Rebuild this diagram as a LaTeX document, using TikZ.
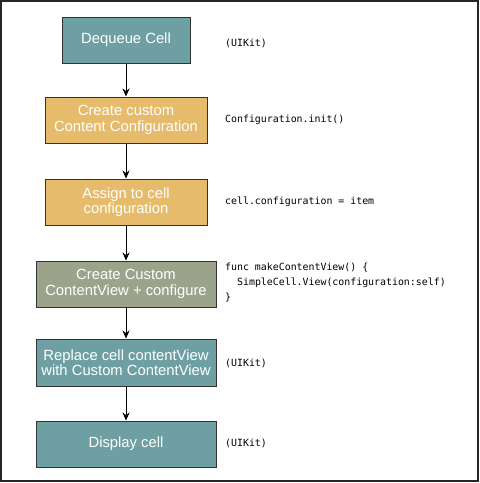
\documentclass[tikz,border=0pt]{standalone}
\usepackage{fontspec}
\setmainfont{Liberation Sans}
\newfontfamily\codefont{DejaVu Sans Mono}
\usetikzlibrary{arrows.meta}
\definecolor{tealbox}{HTML}{6E9FA2}
\definecolor{sandbox}{HTML}{E6BC6C}
\definecolor{sagebox}{HTML}{9BA38B}
\definecolor{edge}{HTML}{333333}

\begin{document}
\begin{tikzpicture}[x=1pt, y=-1pt,
	stepbox/.style={draw=edge, line width=1pt, text=white, align=center, inner sep=0pt,
		minimum height=46pt, font=\fontsize{14.8}{15.5}\selectfont},
	codetext/.style={anchor=west, inner sep=0pt, align=left,
		font=\codefont\fontsize{9.9}{15}\selectfont},
	flow/.style={-{Stealth[length=8pt,width=7pt]}, line width=0.8pt}]
\useasboundingbox (0,0) rectangle (480,483);
\draw [line width=1.6pt, draw=black!85] (1,1) rectangle (478,481);

\node [stepbox, fill=tealbox, minimum width=128pt] (deq) at (126,40) {Dequeue Cell};
\node [stepbox, fill=sandbox, minimum width=162pt] (conf) at (126,120) {Create custom\\Content Configuration};
\node [stepbox, fill=sandbox, minimum width=162pt] (assign) at (126,202) {Assign to cell\\configuration};
\node [stepbox, fill=sagebox, minimum width=180pt] (view) at (126,284) {Create Custom\\ContentView + configure};
\node [stepbox, fill=tealbox, minimum width=180pt, minimum height=47pt] (replace) at (126,362.5) {Replace cell contentView\\with Custom ContentView};
\node [stepbox, fill=tealbox, minimum width=180pt] (show) at (126,444) {Display cell};

\draw [flow] (deq) -- (conf);
\draw [flow] (conf) -- (assign);
\draw [flow] (assign) -- (view);
\draw [flow] (view) -- (replace);
\draw [flow] (replace) -- (show);

\node [codetext] (deqnote) at (225,43) {(UIKit)};
\node [codetext] (confnote) at (225,120) {Configuration.init()};
\node [codetext] (assignnote) at (225,202) {cell.configuration = item};
\node [codetext] (viewnote) at (225,283) {func makeContentView() \{\\
\ \ SimpleCell.View(configuration:self)\\
\}};
\node [codetext] (replacenote) at (225,363) {(UIKit)};
\node [codetext] (shownote) at (225,443) {(UIKit)};

\end{tikzpicture}
\end{document}
